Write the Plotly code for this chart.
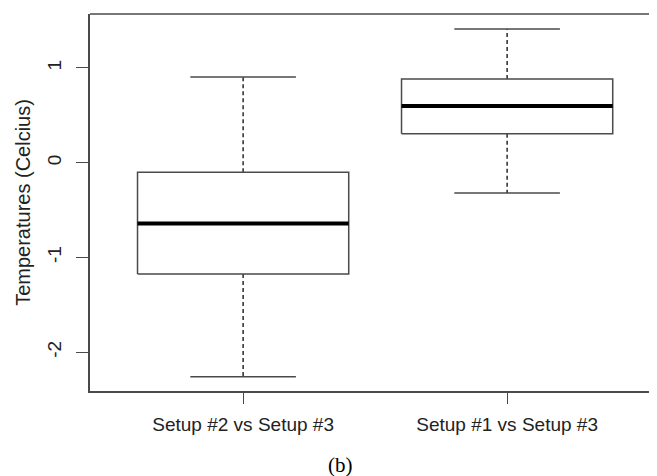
import plotly.graph_objects as go

categories = ["Setup #2 vs Setup #3", "Setup #1 vs Setup #3"]
lower_whisker = [-2.26, -0.32]
q1 = [-1.175, 0.305]
median = [-0.643, 0.600]
q3 = [-0.100, 0.884]
upper_whisker = [0.905, 1.412]
y_tick_vals = [-2, -1, 0, 1]
y_tick_text = ["-2", "-1", "0", "1"]
y_title = "Temperatures (Celcius)"
caption = "(b)"

BOX_W = 0.8
CAP_W = 0.4
LINE_C = "#4a4a4a"
TXT_C = "#222222"
FONT = "Liberation Sans, Arial, sans-serif"

# page body has an 8px margin; figure is sized/placed to compensate
OFF = 8
W, H = 657 - OFF, 476 - OFF
PL, PT, PB = 90 - OFF, 14 - OFF, 391 - OFF  # plot area edges in figure px
PR = W

pos = list(range(1, len(categories) + 1))

box_x, box_y = [], []
med_x, med_y = [], []
wh_x, wh_y = [], []
cap_x, cap_y = [], []
for i, p in enumerate(pos):
    l, r = p - BOX_W / 2, p + BOX_W / 2
    box_x += [l, r, r, l, l, None]
    box_y += [q1[i], q1[i], q3[i], q3[i], q1[i], None]
    med_x += [l, r, None]
    med_y += [median[i], median[i], None]
    wh_x += [p, p, None, p, p, None]
    wh_y += [q3[i], upper_whisker[i], None, q1[i], lower_whisker[i], None]
    cl, cr = p - CAP_W / 2, p + CAP_W / 2
    cap_x += [cl, cr, None, cl, cr, None]
    cap_y += [upper_whisker[i], upper_whisker[i], None, lower_whisker[i], lower_whisker[i], None]

fig = go.Figure()
fig.add_trace(go.Scatter(x=wh_x, y=wh_y, mode="lines",
                         line=dict(color="#1a1a1a", width=1.4, dash="4px,3px"),
                         hoverinfo="skip", showlegend=False))
fig.add_trace(go.Scatter(x=cap_x, y=cap_y, mode="lines",
                         line=dict(color=LINE_C, width=1.5),
                         hoverinfo="skip", showlegend=False))
fig.add_trace(go.Scatter(x=box_x, y=box_y, mode="lines",
                         line=dict(color=LINE_C, width=1.5),
                         hoverinfo="skip", showlegend=False))
fig.add_trace(go.Scatter(x=med_x, y=med_y, mode="lines",
                         line=dict(color="#000000", width=4),
                         hoverinfo="skip", showlegend=False))

pw, ph = PR - PL, PB - PT
fig.update_layout(
    width=W, height=H,
    margin=dict(l=PL, r=0, t=PT, b=H - PB, pad=0),
    paper_bgcolor="white", plot_bgcolor="white",
    font=dict(family=FONT, size=19, color=TXT_C),
    xaxis=dict(range=[0.42, 0.42 + pw / 264], tickvals=pos, ticktext=categories,
               showgrid=False, zeroline=False, showline=True,
               linecolor=LINE_C, linewidth=1.5,
               ticks="outside", ticklen=11, tickcolor=LINE_C, tickwidth=1.2,
               tickfont=dict(size=19), ticklabelstandoff=4, fixedrange=True),
    yaxis=dict(range=[-2.41, 1.57], tickvals=y_tick_vals, ticktext=y_tick_text,
               tickangle=-90, showgrid=False, zeroline=False, showline=True,
               linecolor=LINE_C, linewidth=1.5,
               ticks="outside", ticklen=12, tickcolor=LINE_C, tickwidth=1.2,
               tickfont=dict(size=19), ticklabelstandoff=8,
               title=dict(text=y_title, font=dict(size=20), standoff=8),
               fixedrange=True),
    shapes=[dict(type="line", xref="paper", yref="paper", x0=0, x1=1, y0=1, y1=1,
                 line=dict(color=LINE_C, width=1.5))],
    annotations=[dict(text=caption, xref="paper", yref="paper",
                      x=(340.5 - 90) / pw, y=-(465 - 391) / ph,
                      xanchor="center", yanchor="middle", showarrow=False,
                      font=dict(family="Liberation Serif, Times New Roman, serif",
                                size=21, color="#000000"))],
)

fig.write_html("out.html")
